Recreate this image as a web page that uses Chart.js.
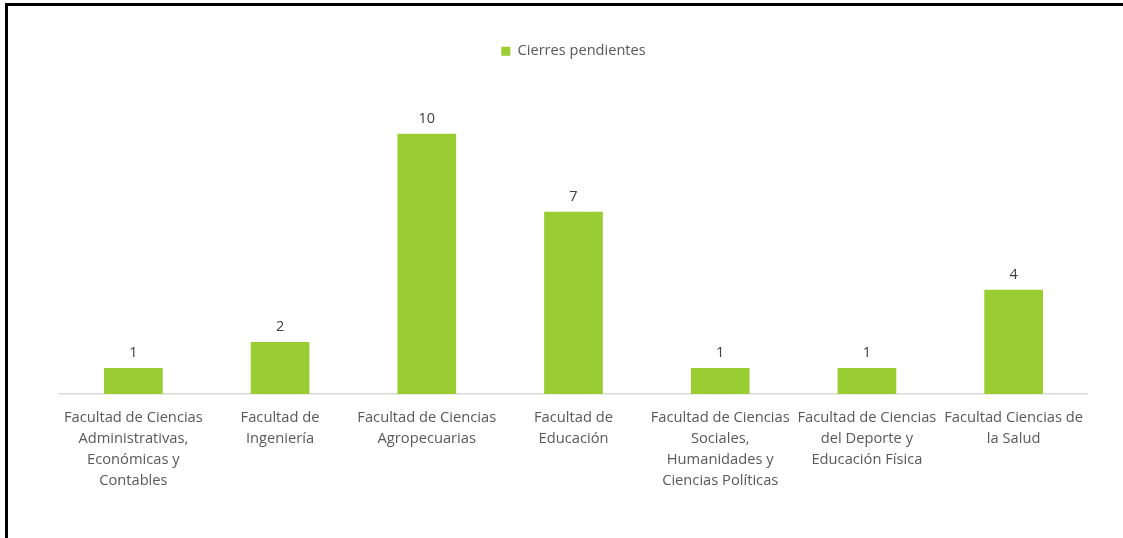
<!DOCTYPE html>
<html>
<head>
<meta charset="utf-8">
<script src="https://cdn.jsdelivr.net/npm/chart.js@4.4.0/dist/chart.umd.min.js"></script>
<style>
    html, body { margin: 0; padding: 0; background: #fff; overflow: hidden; }
    #wrap { position: absolute; left: 0; top: 0; width: 1123px; height: 538px; }
    #frame {
        position: absolute; left: 5px; top: 3px; width: 1118px; height: 535px;
        border-top: 3px solid #000; border-left: 3px solid #000; box-sizing: border-box;
        pointer-events: none;
    }
</style>
</head>
<body>
<div id="wrap">
    <canvas id="barChart" width="1123" height="538"></canvas>
</div>
<div id="frame"></div>
<script>
// Daten
const facultades = [
    ['Facultad de Ciencias', 'Administrativas,', 'Económicas y', 'Contables'],
    ['Facultad de', 'Ingeniería'],
    ['Facultad de Ciencias', 'Agropecuarias'],
    ['Facultad de', 'Educación'],
    ['Facultad de Ciencias', 'Sociales,', 'Humanidades y', 'Ciencias Políticas'],
    ['Facultad de Ciencias', 'del Deporte y', 'Educación Física'],
    ['Facultad Ciencias de', 'la Salud']
];
const cierresPendientes = [1, 2, 10, 7, 1, 1, 4];
const serieNombre = 'Cierres pendientes';

const fontFamily = '"Open Sans", "Noto Sans", sans-serif';

// Werte über den Balken
const valueLabels = {
    id: 'valueLabels',
    afterDatasetsDraw(chart) {
        const ctx = chart.ctx;
        const meta = chart.getDatasetMeta(0);
        ctx.save();
        ctx.font = '14.5px ' + fontFamily;
        ctx.fillStyle = '#404040';
        ctx.textAlign = 'center';
        ctx.textBaseline = 'middle';
        meta.data.forEach((bar, i) => {
            ctx.fillText(String(chart.data.datasets[0].data[i]), bar.x, bar.y - 15);
        });
        ctx.restore();
    }
};

new Chart(document.getElementById('barChart'), {
    type: 'bar',
    data: {
        labels: facultades,
        datasets: [{
            label: serieNombre,
            data: cierresPendientes,
            backgroundColor: '#9acd32',
            borderWidth: 0,
            categoryPercentage: 1,
            barPercentage: 0.4
        }]
    },
    options: {
        responsive: false,
        animation: false,
        layout: { padding: { left: 60, right: 36, top: 30, bottom: 0 } },
        plugins: {
            legend: {
                position: 'top',
                labels: {
                    boxWidth: 9,
                    boxHeight: 9,
                    color: '#595959',
                    font: { family: fontFamily, size: 14.6 },
                    padding: 14
                }
            },
            tooltip: { enabled: false }
        },
        scales: {
            x: {
                grid: { display: false },
                border: { display: true, color: '#d9d9d9', width: 1.5 },
                ticks: {
                    color: '#595959',
                    font: { family: fontFamily, size: 14.7, lineHeight: 1.43 },
                    maxRotation: 0,
                    autoSkip: false,
                    padding: 5
                },
                afterFit(scale) { scale.height = 144; }
            },
            y: {
                display: false,
                min: 0,
                max: 12.5
            }
        }
    },
    plugins: [valueLabels]
});
</script>
</body>
</html>
